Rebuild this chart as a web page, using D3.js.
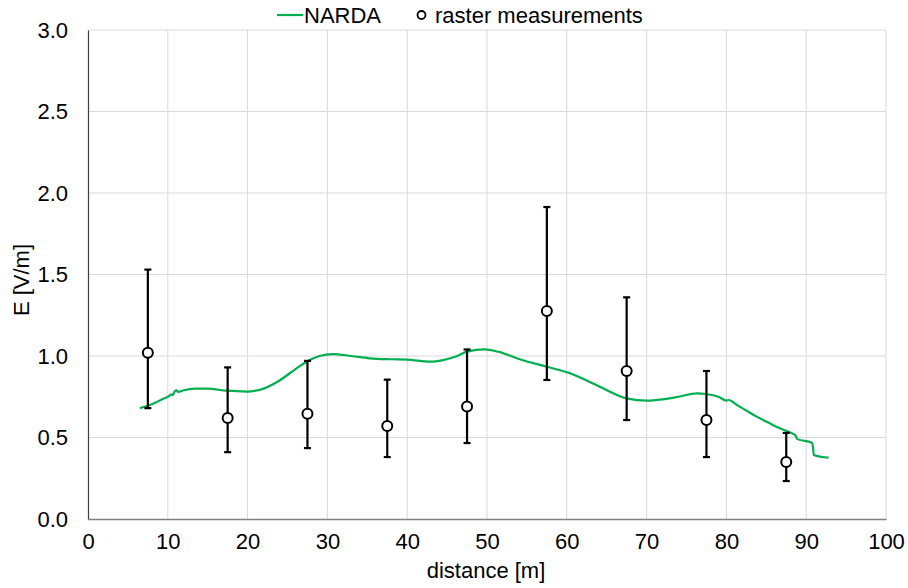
<!DOCTYPE html>
<html><head><meta charset="utf-8">
<script src="https://cdn.jsdelivr.net/npm/d3@7"></script>
<style>
body{margin:0;background:#fff;}
text{font-family:"Liberation Sans",Arial,sans-serif;fill:#000;}
</style></head>
<body><svg id="c" width="908" height="588"></svg>
<script>
// NARDA continuous measurement (distance [m], E [V/m])
const nardaX = [6.5,7.5,8.5,9.5,10.2,10.4,10.6,10.9,11.1,11.3,12,13.4,15,17.4,19.9,22,24.1,26,27.4,29,30.7,33,35.3,38,40,42.9,44.5,46,47.5,49.7,51.5,54.1,57.5,60.4,62.5,64.6,67.5,70,72,74,76.3,77.5,79,80,80.3,81.3,82.5,83.8,85.3,86.7,88,88.6,88.9,90.7,90.85,90.95,92.8];
const nardaY = [0.68,0.695,0.715,0.74,0.755,0.765,0.76,0.785,0.79,0.78,0.79,0.80,0.80,0.787,0.782,0.80,0.853,0.92,0.965,1.0,1.012,1.0,0.986,0.98,0.978,0.965,0.975,0.995,1.027,1.041,1.025,0.98,0.934,0.894,0.85,0.80,0.74,0.726,0.734,0.75,0.771,0.767,0.75,0.726,0.73,0.70,0.665,0.628,0.59,0.556,0.53,0.515,0.49,0.468,0.44,0.393,0.376];
// raster measurements
const rasterX = [7.5,17.5,27.5,37.5,47.5,57.5,67.5,77.5,87.5];
const rasterMean = [1.02,0.62,0.645,0.57,0.69,1.276,0.908,0.607,0.35];
const rasterHigh = [1.53,0.93,0.97,0.855,1.04,1.914,1.36,0.908,0.528];
const rasterLow = [0.68,0.41,0.435,0.38,0.466,0.853,0.607,0.38,0.233];
const xTicks = [0,10,20,30,40,50,60,70,80,90,100];
const yTicks = [0,0.5,1,1.5,2,2.5,3];

const svg = d3.select("#c");
const x = d3.scaleLinear().domain([0,100]).range([88,886]);
const y = d3.scaleLinear().domain([0,3]).range([519,30]);
const FS = 22;

// gridlines
svg.append("g").selectAll("line.v").data(xTicks.slice(1)).join("line")
  .attr("x1",d=>x(d)).attr("x2",d=>x(d)).attr("y1",y(0)).attr("y2",y(3))
  .attr("stroke","#d9d9d9").attr("stroke-width",1);
svg.append("g").selectAll("line.h").data(yTicks.slice(1)).join("line")
  .attr("x1",x(0)).attr("x2",x(100)).attr("y1",d=>y(d)).attr("y2",d=>y(d))
  .attr("stroke","#d9d9d9").attr("stroke-width",1);

// axes
const xAxis = d3.axisBottom(x).tickValues(xTicks).tickSize(0).tickPadding(14).tickFormat(d3.format("d"));
const gx = svg.append("g").attr("transform",`translate(0,${y(0)})`).call(xAxis);
gx.select(".domain").attr("stroke","#7f7f7f").attr("stroke-width",1.5);
gx.selectAll("text").attr("font-size",FS).attr("font-family","Liberation Sans, Arial, sans-serif").attr("fill","#000");

const yAxis = d3.axisLeft(y).tickValues(yTicks).tickSize(0).tickPadding(20).tickFormat(d3.format(".1f"));
const gy = svg.append("g").attr("transform",`translate(${x(0)},0)`).call(yAxis);
gy.select(".domain").attr("stroke","#404040").attr("stroke-width",1.2);
gy.selectAll("text").attr("font-size",FS).attr("font-family","Liberation Sans, Arial, sans-serif").attr("fill","#000");

// axis titles
svg.append("text").attr("x",486).attr("y",578).attr("text-anchor","middle").attr("font-size",FS).text("distance [m]");
svg.append("text").attr("transform","translate(29,280) rotate(-90)").attr("text-anchor","middle").attr("font-size",FS).text("E [V/m]");

// NARDA line
const pts = nardaX.map((d,i)=>[d,nardaY[i]]);
svg.append("path").datum(pts)
  .attr("d",d3.line().x(d=>x(d[0])).y(d=>y(d[1])).curve(d3.curveMonotoneX))
  .attr("fill","none").attr("stroke","#00b050").attr("stroke-width",2.2);

// error bars
const rd = rasterX.map((d,i)=>({x:d,m:rasterMean[i],h:rasterHigh[i],l:rasterLow[i]}));
const eb = svg.append("g").attr("stroke","#000").attr("stroke-width",2.2);
eb.selectAll("line.bar").data(rd).join("line")
  .attr("x1",d=>x(d.x)).attr("x2",d=>x(d.x)).attr("y1",d=>y(d.h)).attr("y2",d=>y(d.l));
eb.selectAll("line.ct").data(rd).join("line")
  .attr("x1",d=>x(d.x)-3.5).attr("x2",d=>x(d.x)+3.5).attr("y1",d=>y(d.h)).attr("y2",d=>y(d.h));
eb.selectAll("line.cb").data(rd).join("line")
  .attr("x1",d=>x(d.x)-3.5).attr("x2",d=>x(d.x)+3.5).attr("y1",d=>y(d.l)).attr("y2",d=>y(d.l));
svg.append("g").selectAll("circle").data(rd).join("circle")
  .attr("cx",d=>x(d.x)).attr("cy",d=>y(d.m)).attr("r",5)
  .attr("fill","#fff").attr("stroke","#000").attr("stroke-width",2);

// legend
const lg = svg.append("g");
lg.append("line").attr("x1",277).attr("x2",303).attr("y1",15).attr("y2",15).attr("stroke","#00b050").attr("stroke-width",2.2);
lg.append("text").attr("x",304).attr("y",23).attr("font-size",FS).text("NARDA");
lg.append("circle").attr("cx",421.5).attr("cy",15).attr("r",4).attr("fill","#fff").attr("stroke","#000").attr("stroke-width",1.8);
lg.append("text").attr("x",435).attr("y",23).attr("font-size",FS).text("raster measurements");
</script></body></html>
